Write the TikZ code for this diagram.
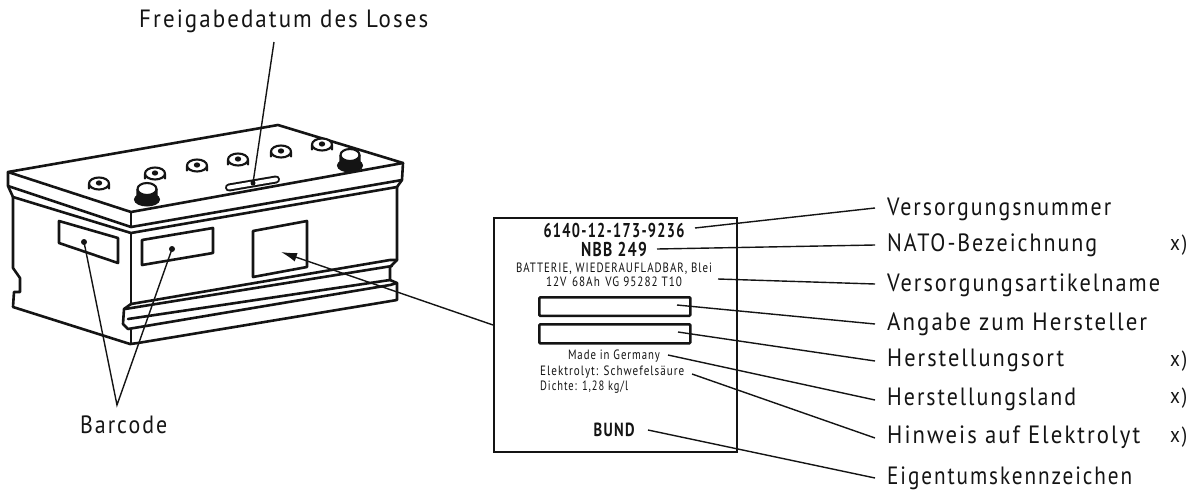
\documentclass[tikz,border=0pt]{standalone}
\usepackage{fontspec}
\usepackage{graphicx}
\setmainfont{PT Sans}[LetterSpace=9]
\usetikzlibrary{arrows.meta}
\definecolor{ink}{HTML}{141414}
\newcommand{\fitw}[3]{\resizebox{#1pt}{\height}{\fontsize{#2}{#2}\selectfont #3}}
\newcommand{\cellcap}[2]{%
  \draw[thinl,fill=white] (#1-10,#2-2.5) -- (#1-10,#2+2.5) arc[start angle=180,end angle=360,x radius=10,y radius=6] -- (#1+10,#2-2.5);
  \draw[thinl,fill=white] (#1,#2-2.5) ellipse[x radius=10,y radius=6];
  \fill[ink] (#1,#2-3) ellipse[x radius=3.2,y radius=2.6];
}
\tikzset{
  thick line/.style={line width=2.6pt,draw=ink,line join=round,line cap=round},
  thinl/.style={line width=2.1pt,draw=ink,line join=round},
  leader/.style={line width=1.4pt,draw=ink},
  lab/.style={anchor=base west,inner sep=0pt,text=ink},
  plat/.style={anchor=base,inner sep=0pt,text=ink},
  plal/.style={anchor=base west,inner sep=0pt,text=ink},
  pin/.style={circle,fill=ink,inner sep=0pt,minimum size=6pt},
}
\begin{document}
\begin{tikzpicture}[x=1pt,y=-1pt]
\useasboundingbox (0,0) rectangle (1197,490);
\fill[white] (0,0) rectangle (1197,490);
% battery top
\draw[thick line,fill=white] (8,172) -- (278,125) -- (403,163) -- (131,212) -- cycle;
\draw[thick line] (8,172) -- (8,186) -- (131,227) -- (402,180) -- (403,163);
\draw[thick line] (131,212) -- (131,227);
\draw[thick line] (8,186) -- (13,197) -- (131,233) -- (397,187) -- (402,180);
% body
\draw[thick line] (13,197) -- (13,268) -- (20,278) -- (20,292) -- (14,292) -- (13,307) -- (130,344) -- (138,343) -- (397,300) -- (397,283) -- (390,280) -- (390,267) -- (397,260) -- (397,187);
\draw[thick line] (131,233) -- (131,304);
\draw[thick line] (131,304) -- (390,260) -- (397,260);
\draw[thick line] (131,304) -- (124,309) -- (123,324) -- (128,329) -- (390,285) -- (397,283);
\draw[thick line] (125,309) -- (392,266);
\draw[thick line] (128,319) -- (390,280);
\draw[thick line] (131,330) -- (131,344);
% windows
\draw[thick line] (59,221) -- (118,238) -- (118,263) -- (59,243) -- cycle;
\draw[thick line] (142,240) -- (213,228) -- (213,253) -- (142,265) -- cycle;
\draw[thick line] (253,231) -- (307,221) -- (307,267) -- (253,277) -- cycle;
% cell caps
\cellcap{99}{186}
\cellcap{155}{176}
\cellcap{197}{168}
\cellcap{238}{162}
\cellcap{281}{154}
\cellcap{322}{147}
% terminals
\draw[line width=2pt,draw=ink,fill=ink] (147,199.5) ellipse[x radius=12,y radius=6];
\draw[thinl,fill=white] (137.5,189) -- (137.5,197) arc[start angle=180,end angle=360,x radius=9.5,y radius=5.5] -- (156.5,189);
\draw[thinl,fill=white] (147,189) ellipse[x radius=9.5,y radius=6];
\draw[line width=2pt,draw=ink,fill=ink] (350,165.5) ellipse[x radius=12,y radius=6];
\draw[thinl,fill=white] (340.5,155) -- (340.5,163) arc[start angle=180,end angle=360,x radius=9.5,y radius=5.5] -- (359.5,155);
\draw[thinl,fill=white] (350,155) ellipse[x radius=9.5,y radius=6];
% slot
\draw[line width=8pt,draw=ink,line cap=round] (229,187.5) -- (276,179.5);
\draw[line width=4pt,draw=white,line cap=round] (229,187.5) -- (276,179.5);
% plate
\node[draw=ink,line width=2.4pt,minimum width=243pt,minimum height=234pt,inner sep=0pt,anchor=north west] (plate) at (493,217) {};
\node[draw=ink,line width=2.6pt,minimum width=151pt,minimum height=18.5pt,inner sep=0pt,anchor=north west,rounded corners=1pt] (box1) at (538,296) {};
\node[draw=ink,line width=2.6pt,minimum width=151pt,minimum height=19pt,inner sep=0pt,anchor=north west,rounded corners=1pt] (box2) at (538,323) {};
% plate text
\node[plat] (t1) at (614,237.5) {\fitw{141}{20}{\bfseries 6140-12-173-9236}};
\node[plat] (t2) at (614,256) {\fitw{66}{20}{\bfseries NBB 249}};
\node[plat] (t3) at (614,272.5) {\fitw{196}{13.5}{BATTERIE, WIEDERAUFLADBAR, Blei}};
\node[plat] (t4) at (614,286.5) {\fitw{136}{13.5}{12V\hspace{0.5em}68Ah\hspace{0.5em}VG 95282 T10}};
\node[plat] (t5) at (614,359.5) {\fitw{92}{13.5}{Made in Germany}};
\node[plal] (t6) at (540,375.5) {\fitw{144}{13.5}{Elektrolyt: Schwefelsäure}};
\node[plal] (t7) at (540,390) {\fitw{88}{13.5}{Dichte: 1,28 kg/l}};
\node[plat] (t8) at (614,436) {\fitw{41}{19}{\bfseries BUND}};
% labels
\node[lab] (l1) at (887,215) {\fitw{224}{25}{Versorgungsnummer}};
\node[lab] (l2) at (887,251.7) {\fitw{210}{25}{NATO-Bezeichnung}};
\node[lab] (l3) at (887,291.7) {\fitw{273}{25}{Versorgungsartikelname}};
\node[lab] (l4) at (887,330) {\fitw{260}{25}{Angabe zum Hersteller}};
\node[lab] (l5) at (887,366.7) {\fitw{177}{25}{Herstellungsort}};
\node[lab] (l6) at (887,405) {\fitw{189}{25}{Herstellungsland}};
\node[lab] (l7) at (887,443) {\fitw{253}{25}{Hinweis auf Elektrolyt}};
\node[lab] (l8) at (887,484) {\fitw{245}{25}{Eigentumskennzeichen}};
\node[lab] (x2) at (1170,250) {\fitw{17}{22}{x)}};
\node[lab] (x5) at (1170,366) {\fitw{17}{22}{x)}};
\node[lab] (x6) at (1170,403) {\fitw{17}{22}{x)}};
\node[lab] (x7) at (1170,442) {\fitw{17}{22}{x)}};
\node[lab] (free) at (139,27) {\fitw{289}{25}{Freigabedatum des Loses}};
\node[lab] (bar) at (80,433) {\fitw{87}{25}{Barcode}};
% connector ends
\coordinate (a1) at (695,228); \coordinate (b1) at (875,208);
\coordinate (a2) at (657,249); \coordinate (b2) at (875,245);
\coordinate (a3) at (718,279); \coordinate (b3) at (875,284);
\coordinate (a4) at (677,305); \coordinate (b4) at (875,324);
\coordinate (a5) at (678,332); \coordinate (b5) at (875,361);
\coordinate (a6) at (668,355); \coordinate (b6) at (875,400);
\coordinate (a7) at (692,374); \coordinate (b7) at (875,438);
\coordinate (a8) at (648,430); \coordinate (b8) at (875,478);
\coordinate (fa) at (274,42);
\coordinate (ba) at (117,405);
\coordinate (ta) at (281,252);
\coordinate (pl) at (493,325);
\foreach \i in {1,...,8}{\draw[leader] (a\i) -- (b\i);}
\node[pin] (d1) at (84,242) {};
\node[pin] (d2) at (172,249) {};
\node[pin,minimum size=5pt] (d3) at (253,183) {};
\draw[leader] (d1.center) -- (ba) -- (d2.center);
\draw[leader] (fa) -- (d3.center);
\draw[leader,-{Latex[length=16pt,width=9pt]}] (pl) -- (ta);
\end{tikzpicture}
\end{document}
